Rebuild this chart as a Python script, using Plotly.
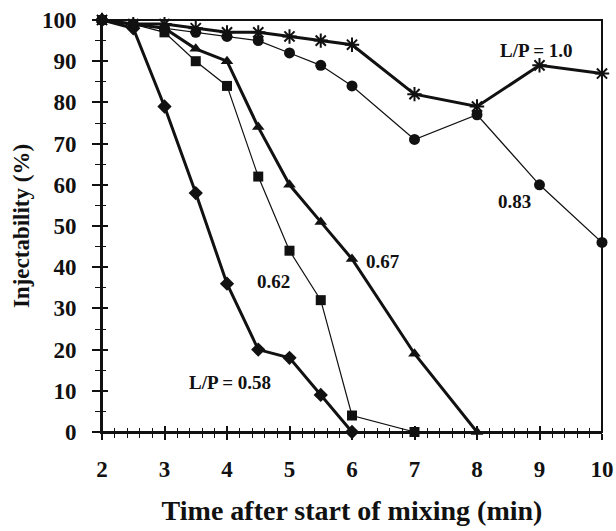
import plotly.graph_objects as go

# Injectability vs. time for each liquid/powder ratio
time_058 = [2, 2.5, 3, 3.5, 4, 4.5, 5, 5.5, 6]
inj_058 = [100, 98, 79, 58, 36, 20, 18, 9, 0]

time_062 = [2, 2.5, 3, 3.5, 4, 4.5, 5, 5.5, 6, 7]
inj_062 = [100, 99, 97, 90, 84, 62, 44, 32, 4, 0]

time_067 = [2, 2.5, 3, 3.5, 4, 4.5, 5, 5.5, 6, 7, 8]
inj_067 = [100, 99, 98, 93, 90, 74, 60, 51, 42, 19, 0]

time_083 = [2, 2.5, 3, 3.5, 4, 4.5, 5, 5.5, 6, 7, 8, 9, 10]
inj_083 = [100, 99, 98, 97, 96, 95, 92, 89, 84, 71, 77, 60, 46]

time_100 = [2, 2.5, 3, 3.5, 4, 4.5, 5, 5.5, 6, 7, 8, 9, 10]
inj_100 = [100, 99, 99, 98, 97, 97, 96, 95, 94, 82, 79, 89, 87]

labels = ["L/P = 1.0", "0.83", "0.67", "0.62", "L/P = 0.58"]
label_x = [8.95, 8.6, 6.5, 4.75, 4.05]
label_y = [92.5, 56, 41.5, 36.5, 12]

x_ticks = [2, 3, 4, 5, 6, 7, 8, 9, 10]
y_ticks = [0, 10, 20, 30, 40, 50, 60, 70, 80, 90, 100]

FONT = "Liberation Serif"
BLACK = "#111111"

fig = go.Figure()

series = [
    (time_058, inj_058, "diamond", 11, 3),
    (time_062, inj_062, "square", 10, 1.2),
    (time_067, inj_067, "triangle-up", 11, 3),
    (time_083, inj_083, "circle", 11, 1.2),
]
for xs, ys, sym, size, lw in series:
    fig.add_trace(go.Scatter(
        x=xs, y=ys, mode="lines+markers",
        line=dict(color=BLACK, width=lw),
        marker=dict(symbol=sym, size=size, color=BLACK),
        showlegend=False, cliponaxis=False,
    ))

fig.add_trace(go.Scatter(
    x=time_100, y=inj_100, mode="lines+markers",
    line=dict(color=BLACK, width=3),
    marker=dict(symbol="asterisk-open", size=12, color=BLACK,
                line=dict(color=BLACK, width=2)),
    showlegend=False, cliponaxis=False,
))

for t, lx, ly in zip(labels, label_x, label_y):
    fig.add_annotation(x=lx, y=ly, text=f"<b>{t}</b>", showarrow=False,
                       font=dict(family=FONT, size=19, color=BLACK),
                       xanchor="center", yanchor="middle")

# plot frame
fig.add_shape(type="rect", xref="x domain", yref="y domain",
              x0=0, x1=1, y0=0, y1=1, line=dict(color=BLACK, width=2),
              layer="below")

axis_common = dict(
    showgrid=False, zeroline=False, automargin=False,
    showline=True, linecolor=BLACK, linewidth=2,
    tickcolor=BLACK, tickwidth=1.5,
    tickfont=dict(family=FONT, size=23, color=BLACK),
)

fig.update_layout(
    width=616, height=531,
    margin=dict(l=102, r=14, t=20, b=99),
    paper_bgcolor="white", plot_bgcolor="white",
    xaxis=dict(
        range=[2, 10], tickvals=x_ticks, ticktext=[f"<b>{v}</b>" for v in x_ticks],
        ticks="outside", ticklen=6, ticklabelstandoff=9,
        minor=dict(dtick=0.2, tick0=2, ticks="outside", ticklen=4,
                   tickcolor=BLACK, tickwidth=1),
        title=dict(text="<b>Time after start of mixing (min)</b>",
                   font=dict(family=FONT, size=28, color=BLACK), standoff=20),
        **axis_common,
    ),
    yaxis=dict(
        range=[0, 100], tickvals=y_ticks, ticktext=[f"<b>{v}</b>" for v in y_ticks],
        ticks="outside", ticklen=8, ticklabelstandoff=11,
        minor=dict(dtick=5, tick0=0, ticks="outside", ticklen=5,
                   tickcolor=BLACK, tickwidth=1),
        title=dict(text="<b>Injectability (%)</b>",
                   font=dict(family=FONT, size=23, color=BLACK), standoff=6),
        **axis_common,
    ),
    # inner halves of the crossing ticks
    xaxis2=dict(
        overlaying="x", side="bottom", range=[2, 10], tickvals=x_ticks,
        showticklabels=False, ticks="inside", ticklen=6,
        tickcolor=BLACK, tickwidth=1.5, showgrid=False, zeroline=False,
        minor=dict(dtick=0.2, tick0=2, ticks="inside", ticklen=4,
                   tickcolor=BLACK, tickwidth=1),
    ),
    yaxis2=dict(
        overlaying="y", side="left", range=[0, 100], tickvals=y_ticks,
        showticklabels=False, ticks="inside", ticklen=6,
        tickcolor=BLACK, tickwidth=1.5, showgrid=False, zeroline=False,
        minor=dict(dtick=5, tick0=0, ticks="inside", ticklen=4,
                   tickcolor=BLACK, tickwidth=1),
    ),
)

# empty trace so the overlay axes are rendered
fig.add_trace(go.Scatter(x=[None], y=[None], xaxis="x2", yaxis="y2",
                         showlegend=False, hoverinfo="skip"))

fig.write_html("out.html")
